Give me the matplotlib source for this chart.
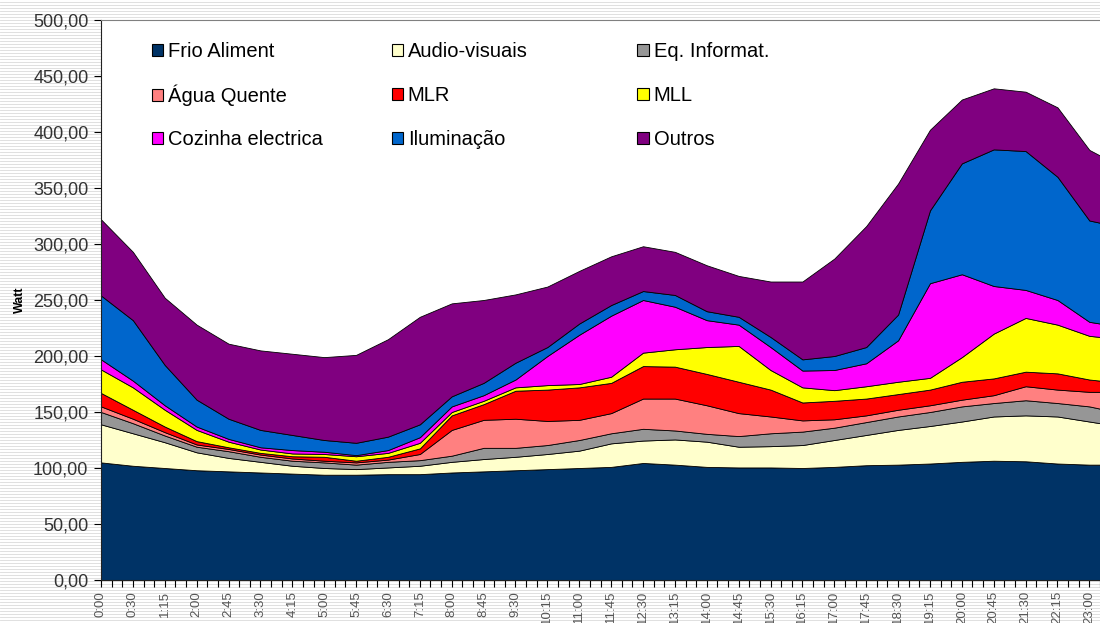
import numpy as np
import matplotlib
matplotlib.use("Agg")
import matplotlib.pyplot as plt
from matplotlib.patches import Patch
from matplotlib.lines import Line2D
from matplotlib.legend import Legend
from matplotlib.ticker import FuncFormatter

plt.rcParams['font.family'] = ['Liberation Sans', 'DejaVu Sans']

# tick labels (every 3rd 15-min slot), values read at those slots + the last visible slot
rotulos = ['0:00', '0:30', '1:15', '2:00', '2:45', '3:30', '4:15', '5:00', '5:45', '6:30',
           '7:15', '8:00', '8:45', '9:30', '10:15', '11:00', '11:45', '12:30', '13:15', '14:00',
           '14:45', '15:30', '16:15', '17:00', '17:45', '18:30', '19:15', '20:00', '20:45', '21:30',
           '22:15', '23:00']
slots = [3 * i for i in range(len(rotulos))] + [94]

nomes = ['Frio Aliment', 'Audio-visuais', 'Eq. Informat.', 'Água Quente', 'MLR', 'MLL',
         'Cozinha electrica', 'Iluminação', 'Outros']
cores = ['#003366', '#FFFFCC', '#969696', '#FF8080', '#FF0000', '#FFFF00',
         '#FF00FF', '#0066CC', '#800080']

frio = [105, 102, 100, 98, 97, 96, 95, 94, 94, 94.5, 94.5, 96, 97, 98, 99, 100, 101, 104.5,
        103, 101, 100.5, 100.5, 100, 101, 102.5, 103, 104, 105.5, 106.5, 106, 104, 103, 103]
audio = [34, 29, 23, 16, 12, 9.5, 7, 6, 5, 6, 7.5, 9.5, 11, 12, 13.5, 15.5, 21, 20,
         22.5, 22.5, 18.5, 19, 20.5, 24, 27, 31, 33.5, 36, 39.5, 41, 42, 38.5, 37]
informat = [11, 9, 6, 5, 6, 4.5, 4.5, 5, 4, 5, 5, 5.5, 10, 8, 8, 9.5, 9, 10.5,
            8, 7, 9.5, 11.5, 12, 11, 11.5, 12, 12.5, 13.5, 12, 13.5, 12, 13.5, 13]
agua = [5, 4, 3, 2, 2, 2, 2, 1.5, 2, 2, 5.5, 23, 25, 26, 21.5, 18, 18, 27,
        28.5, 25.5, 20.5, 15, 10, 7.5, 6, 6, 6, 6, 7, 12.5, 12, 13, 15]
mlr = [12, 8, 5, 3, 1.5, 1.5, 2, 3.5, 1.5, 2.5, 5, 13, 14, 25, 28, 29, 27, 29,
       28.5, 28, 28, 24, 16, 16.5, 15, 14, 14, 16, 15, 13, 14.5, 11, 10]
mll = [21, 20, 15, 10, 5, 3, 2.5, 2.5, 4, 3.5, 5, 3, 3, 3, 4, 3, 5.5, 12,
       15.5, 24, 32, 17.5, 13.5, 9.5, 11, 11, 10.5, 22, 40, 48, 43.5, 39, 39]
cozinha = [9, 6, 4, 3, 2.5, 2, 3, 2, 1, 2.5, 5, 5, 5, 7, 26, 44, 54.5, 47,
           38, 24, 19, 20.5, 15, 18, 20.5, 37, 84.5, 74, 42.5, 25, 22, 12.5, 12]
iluminacao = [57, 54, 36, 24, 18, 15.5, 13.5, 10.5, 11, 12, 11.5, 9, 11, 15, 8, 10, 9.5, 8,
              10.5, 8, 7, 9, 10, 12.5, 14.5, 23, 65, 99, 122, 124, 110, 90.5, 90]
outros = [68, 61, 60, 67, 67, 71, 72.5, 74, 78.5, 87, 96, 83, 74, 61, 54, 47, 43.5, 40,
          38.5, 41, 36.5, 49.5, 69.5, 87, 108, 117, 72, 57, 54.5, 53, 62, 63, 60]

series = [frio, audio, informat, agua, mlr, mll, cozinha, iluminacao, outros]

W, H = 1100, 623
fig = plt.figure(figsize=(W / 100, H / 100), dpi=100)

# striped chart-area background
for yy in range(0, H, 3):
    fig.add_artist(Line2D([0, 1], [yy / H, yy / H], transform=fig.transFigure,
                          color='#dadada', lw=0.6, zorder=-5))

ax = fig.add_axes([101 / W, 43 / H, 999 / W, 560 / H])
ax.set_facecolor('white')
ax.stackplot(slots, *series, colors=cores, edgecolor='black', linewidth=0.6)

ax.set_xlim(0, 94)
ax.set_ylim(0, 500)
ax.set_yticks(np.arange(0, 501, 50))
ax.yaxis.set_major_formatter(FuncFormatter(lambda v, p: f"{v:.2f}".replace('.', ',')))
ax.set_xticks(slots[:len(rotulos)])
ax.set_xticklabels(rotulos, rotation=90, fontsize=9.5, color='#555555')
ax.set_xticks(np.arange(0, 95), minor=True)
ax.tick_params(axis='x', which='both', direction='out', length=5, width=0.8, pad=3)
ax.tick_params(axis='y', direction='out', length=5, width=0.8, labelsize=13,
               labelcolor='#333333', pad=4)
ax.set_ylabel('Watt', fontsize=9, fontweight='bold', labelpad=5)

ax.spines['right'].set_visible(False)
ax.spines['top'].set_color('#808080')
ax.spines['left'].set_color('#222222')
ax.spines['bottom'].set_color('#222222')

# legend: Excel-style grid, one entry per cell, row-major
handles = [Patch(facecolor=c, edgecolor='black', linewidth=0.8) for c in cores]
col_x = [0.051, 0.291, 0.537]
row_y = [0.943, 0.865, 0.787]
for i, nome in enumerate(nomes):
    leg = Legend(ax, [handles[i]], [nome], loc='center left',
                 bbox_to_anchor=(col_x[i % 3], row_y[i // 3]), frameon=False,
                 fontsize=14.5, handlelength=0.55, handleheight=0.55, handletextpad=0.25,
                 borderpad=0, borderaxespad=0)
    ax.add_artist(leg)

fig.savefig('out.png', dpi=100)
